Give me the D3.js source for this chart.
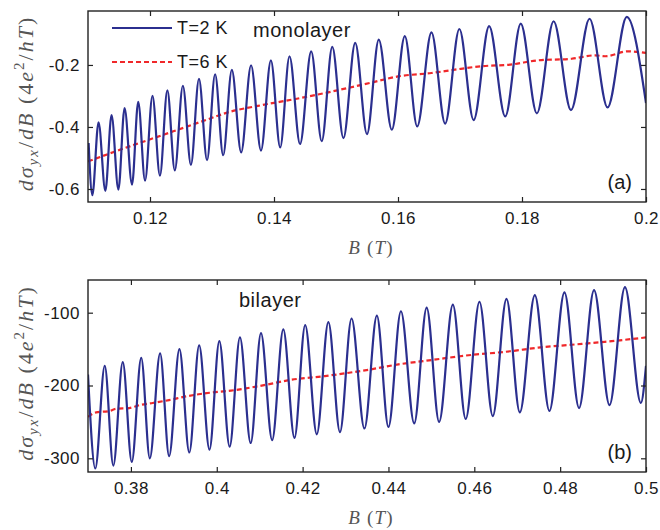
<!DOCTYPE html>
<html>
<head>
<meta charset="utf-8">
<script src="https://cdn.jsdelivr.net/npm/d3@7"></script>
<style>
  body { margin: 0; background: #fff; }
  svg { display: block; }
</style>
</head>
<body>
<div id="chart"></div>
<script>
// Monolayer, T=2 K : B of each peak / trough
var monoB2 = [0.1101, 0.1107, 0.1117, 0.1128, 0.1138, 0.1149, 0.1159, 0.1171, 0.1181, 0.1192,
  0.1204, 0.1216, 0.1228, 0.1240, 0.1253, 0.1266, 0.1279, 0.1292, 0.1305, 0.1318,
  0.1332, 0.1347, 0.1363, 0.1379, 0.1395, 0.1410, 0.1425, 0.1442, 0.1460, 0.1477,
  0.1494, 0.1512, 0.1531, 0.1550, 0.1569, 0.1590, 0.1611, 0.1631, 0.1654, 0.1676,
  0.1699, 0.1722, 0.1747, 0.1773, 0.1798, 0.1824, 0.1851, 0.1879, 0.1909, 0.1938,
  0.1969, 0.2];
var monoV2 = [-0.452, -0.620, -0.385, -0.606, -0.362, -0.602, -0.339, -0.586, -0.319, -0.573,
  -0.300, -0.557, -0.282, -0.540, -0.267, -0.522, -0.245, -0.507, -0.230, -0.491,
  -0.216, -0.482, -0.201, -0.476, -0.185, -0.466, -0.172, -0.455, -0.156, -0.446,
  -0.142, -0.436, -0.129, -0.423, -0.118, -0.409, -0.107, -0.398, -0.095, -0.389,
  -0.084, -0.378, -0.075, -0.366, -0.067, -0.356, -0.059, -0.346, -0.051, -0.337,
  -0.045, -0.323];

// Monolayer, T=6 K
var monoB6 = [0.11, 0.1151, 0.1216, 0.1281, 0.1331, 0.1374, 0.1442, 0.1555, 0.16, 0.1654,
  0.1692, 0.1735, 0.1781, 0.1826, 0.188, 0.1918, 0.1934, 0.1971, 0.2];
var monoV6 = [-0.511, -0.474, -0.429, -0.384, -0.350, -0.332, -0.307, -0.258, -0.237, -0.226,
  -0.215, -0.204, -0.199, -0.185, -0.180, -0.169, -0.172, -0.156, -0.161];

// Bilayer, T=2 K
var biB2 = [0.37, 0.3717, 0.3739, 0.3759, 0.3781, 0.3802, 0.3824, 0.3844, 0.3868, 0.3889,
  0.3913, 0.3936, 0.3959, 0.3983, 0.4006, 0.4030, 0.4054, 0.4079, 0.4103, 0.4129,
  0.4155, 0.4181, 0.4206, 0.4233, 0.4260, 0.4287, 0.4314, 0.4344, 0.4373, 0.4400,
  0.4429, 0.4460, 0.4489, 0.4518, 0.4550, 0.4580, 0.4612, 0.4643, 0.4675, 0.4706,
  0.4741, 0.4775, 0.4810, 0.4844, 0.4879, 0.4915, 0.4951, 0.4988, 0.5];
var biV2 = [-185, -314, -173, -310, -168, -305, -162, -300, -156, -297,
  -150, -292, -145, -288, -139, -284, -134, -279, -128, -275,
  -123, -272, -117, -267, -113, -264, -108, -259, -104, -257,
  -98, -252, -93, -250, -89, -246, -85, -242, -81, -237,
  -76, -235, -72, -231, -69, -227, -65, -224, -173];

// Bilayer, T=6 K
var biB6 = [0.37, 0.3719, 0.3750, 0.3765, 0.3796, 0.3820, 0.3851, 0.3889, 0.3928, 0.3983,
  0.4033, 0.4097, 0.4175, 0.4252, 0.4357, 0.4423, 0.4501, 0.4578, 0.4683, 0.4749,
  0.4827, 0.4904, 0.5];
var biV6 = [-243, -237, -235, -232, -231, -227, -224, -220, -215, -210,
  -207, -201, -192, -187, -178, -171, -165, -159, -153, -148,
  -144, -140, -134];

// Ticks
var monoXTicks = [0.12, 0.14, 0.16, 0.18, 0.2];
var monoXLabels = ["0.12", "0.14", "0.16", "0.18", "0.2"];
var monoYTicks = [-0.2, -0.4, -0.6];
var monoYLabels = ["-0.2", "-0.4", "-0.6"];
var biXTicks = [0.38, 0.4, 0.42, 0.44, 0.46, 0.48, 0.5];
var biXLabels = ["0.38", "0.4", "0.42", "0.44", "0.46", "0.48", "0.5"];
var biYTicks = [-100, -200, -300];
var biYLabels = ["-100", "-200", "-300"];

var seriesNames = ["T=2 K", "T=6 K"];

var blue = "#2b2f8f";
var red = "#f0282a";
var sansFont = "'Liberation Sans', Arial, Helvetica, sans-serif";
var serifFont = "'Liberation Serif', 'Times New Roman', serif";

var svg = d3.select("#chart").append("svg")
    .attr("width", 660)
    .attr("height", 530);

var left = 88, right = 646;

// zip two arrays into points
function zip(bs, vs) {
    return bs.map(function (b, i) { return [b, vs[i]]; });
}

// math label built from pieces [text, italic, dy, size]
function mathText(sel, pieces) {
    pieces.forEach(function (p) {
        sel.append("tspan")
            .attr("font-style", p[1] ? "italic" : "normal")
            .attr("dy", p[2])
            .attr("font-size", p[3])
            .text(p[0]);
    });
}

var Panel = function (opt) {
    var x = d3.scaleLinear().domain(opt.xDomain).range([left, right]);
    var y = d3.scaleLinear().domain(opt.yDomain).range([opt.bottom, opt.top]);
    var g = svg.append("g");

    var clipId = "clip" + opt.id;
    g.append("clipPath").attr("id", clipId)
        .append("rect")
        .attr("x", left).attr("y", opt.top)
        .attr("width", right - left).attr("height", opt.bottom - opt.top);

    var line = d3.line()
        .x(function (d) { return x(d[0]); })
        .y(function (d) { return y(d[1]); })
        .curve(d3.curveMonotoneX);

    // T=6 K dashed
    g.append("path")
        .datum(zip(opt.b6, opt.v6))
        .attr("clip-path", "url(#" + clipId + ")")
        .attr("d", line)
        .attr("fill", "none")
        .attr("stroke", red)
        .attr("stroke-width", 2.2)
        .attr("stroke-dasharray", "5,3");

    // T=2 K solid
    g.append("path")
        .datum(zip(opt.b2, opt.v2))
        .attr("clip-path", "url(#" + clipId + ")")
        .attr("d", line)
        .attr("fill", "none")
        .attr("stroke", blue)
        .attr("stroke-width", 2.2);

    // axes, ticks pointing in on all four sides
    var ax = [
        d3.axisBottom(x).tickValues(opt.xTicks).tickSize(-5).tickPadding(10)
            .tickFormat(function (d, i) { return opt.xLabels[i]; }),
        d3.axisTop(x).tickValues(opt.xTicks).tickSize(-5).tickFormat(""),
        d3.axisLeft(y).tickValues(opt.yTicks).tickSize(-5).tickPadding(8)
            .tickFormat(function (d, i) { return opt.yLabels[i]; }),
        d3.axisRight(y).tickValues(opt.yTicks).tickSize(-5).tickFormat("")
    ];
    var pos = [[0, opt.bottom], [0, opt.top], [left, 0], [right, 0]];
    ax.forEach(function (a, i) {
        var ag = g.append("g")
            .attr("transform", "translate(" + pos[i][0] + "," + pos[i][1] + ")")
            .call(a);
        ag.select(".domain").remove();
        ag.selectAll("line").attr("stroke", "#222").attr("stroke-width", 1.2);
        ag.selectAll("text")
            .attr("fill", "#1a1a1a")
            .style("font-family", sansFont)
            .style("font-size", "17px")
            .style("letter-spacing", "0.5px");
    });

    // frame
    g.append("rect")
        .attr("x", left).attr("y", opt.top)
        .attr("width", right - left).attr("height", opt.bottom - opt.top)
        .attr("fill", "none")
        .attr("stroke", "#222")
        .attr("stroke-width", 1.4);

    // panel name and letter
    g.append("text")
        .attr("x", opt.nameX).attr("y", opt.nameY)
        .text(opt.name)
        .attr("fill", "#1a1a1a")
        .style("font-family", sansFont)
        .style("font-size", "20px")
        .style("letter-spacing", "0.5px");

    g.append("text")
        .attr("x", 632).attr("y", opt.bottom - 13)
        .attr("text-anchor", "end")
        .text(opt.letter)
        .attr("fill", "#1a1a1a")
        .style("font-family", sansFont)
        .style("font-size", "20px");

    // x label  B (T)
    var xl = g.append("text")
        .attr("x", 371).attr("y", opt.bottom + 52)
        .attr("text-anchor", "middle")
        .attr("fill", "#555")
        .style("font-family", serifFont)
        .style("font-size", "19px")
        .style("letter-spacing", "1.2px");
    mathText(xl, [["B", true, 0, 19], [" (", false, 0, 19], ["T", true, 0, 19], [")", false, 0, 19]]);

    // y label  dσyx/dB (4e²/hT)
    var yl = g.append("text")
        .attr("transform", "translate(33," + ((opt.top + opt.bottom) / 2 - 3) + ") rotate(-90)")
        .attr("text-anchor", "middle")
        .attr("fill", "#555")
        .style("font-family", serifFont)
        .style("font-size", "22px")
        .style("letter-spacing", "2px");
    mathText(yl, [
        ["dσ", true, 0, 22],
        ["yx", true, 5, 15],
        ["/", false, -5, 22],
        ["dB", true, 0, 22],
        [" (4", false, 0, 22],
        ["e", true, 0, 22],
        ["2", false, -9, 15],
        ["/", false, 9, 22],
        ["hT", true, 0, 22],
        [")", false, 0, 22]
    ]);

    return g;
};

Panel({
    id: "a", top: 11, bottom: 202,
    xDomain: [0.11, 0.2], yDomain: [-0.642, -0.026],
    b2: monoB2, v2: monoV2, b6: monoB6, v6: monoV6,
    xTicks: monoXTicks, xLabels: monoXLabels, yTicks: monoYTicks, yLabels: monoYLabels,
    name: "monolayer", nameX: 253, nameY: 37, letter: "(a)"
});

Panel({
    id: "b", top: 280, bottom: 472,
    xDomain: [0.37, 0.5], yDomain: [-318.8, -55.1],
    b2: biB2, v2: biV2, b6: biB6, v6: biV6,
    xTicks: biXTicks, xLabels: biXLabels, yTicks: biYTicks, yLabels: biYLabels,
    name: "bilayer", nameX: 239, nameY: 307, letter: "(b)"
});

// Legend in panel (a)
var legend = svg.append("g");
[blue, red].forEach(function (c, i) {
    var ly = 28 + i * 34;
    legend.append("line")
        .attr("x1", 112).attr("x2", 172)
        .attr("y1", ly).attr("y2", ly)
        .attr("stroke", c)
        .attr("stroke-width", 2.2)
        .attr("stroke-dasharray", i == 1 ? "5,3" : null);
    legend.append("text")
        .attr("x", 177).attr("y", ly + 6)
        .text(seriesNames[i])
        .attr("fill", "#1a1a1a")
        .style("font-family", sansFont)
        .style("font-size", "18px")
        .style("letter-spacing", "0.5px");
});
</script>
</body>
</html>
